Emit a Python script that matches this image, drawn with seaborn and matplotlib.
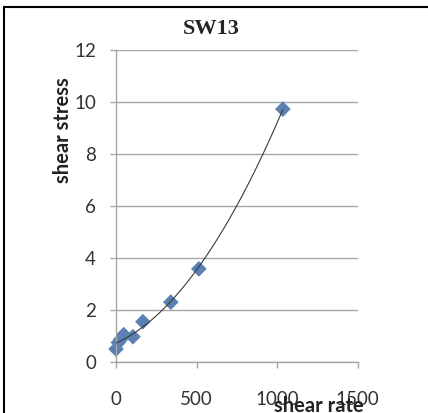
import numpy as np
import pandas as pd
import matplotlib
matplotlib.use("Agg")
import matplotlib.pyplot as plt
import seaborn as sns

# values
shear_rate = [0, 15, 30, 48, 105, 167, 340, 514, 1035]
shear_stress = [0.5, 0.75, 0.88, 1.05, 0.97, 1.55, 2.3, 3.58, 9.72]
x_ticks = [0, 500, 1000, 1500]
y_ticks = [0, 2, 4, 6, 8, 10, 12]

df = pd.DataFrame({"shear rate": shear_rate, "shear stress": shear_stress})

sns.set_style("white")
plt.rcParams["font.family"] = ["Lato", "DejaVu Sans"]

fig = plt.figure(figsize=(4.28, 4.13), dpi=100)
ax = fig.add_axes([0.271, 0.1235, 0.565, 0.756])

# polynomial trendline (excel style), fitted from the points
coef = np.polyfit(df["shear rate"], df["shear stress"], 2)
xs = np.linspace(0, max(shear_rate), 200)
ax.plot(xs, np.polyval(coef, xs), color="#3a3a3a", lw=0.8, zorder=3)

sns.scatterplot(data=df, x="shear rate", y="shear stress", marker="D", s=64,
                color="#5b80b4", edgecolor="none", ax=ax, zorder=2,
                clip_on=False)

ax.set_xlim(0, 1500)
ax.set_ylim(0, 12)
ax.set_xticks(x_ticks)
ax.set_yticks(y_ticks)
ax.set_xlabel("")
ax.set_ylabel("")
ax.yaxis.grid(True, color="#a6a6a6", lw=1)
ax.set_axisbelow(True)
for s in ["top", "right"]:
    ax.spines[s].set_visible(False)
for s in ["left", "bottom"]:
    ax.spines[s].set_color("#a6a6a6")
    ax.spines[s].set_linewidth(1)
ax.tick_params(axis="y", length=4.3, width=1, color="#a6a6a6", pad=10,
               labelsize=13.5, labelcolor="#333333", left=True)
ax.tick_params(axis="x", length=4, width=1, color="#a6a6a6", pad=17,
               labelsize=13.5, labelcolor="#333333", bottom=True)

fig.text(0.494, 0.93, "SW13", ha="center", va="center", fontsize=16,
         fontweight="bold", family="Liberation Serif")
fig.text(0.148, 0.685, "shear stress", ha="center", va="center", rotation=90,
         fontsize=14.5, fontweight="bold", color="#222222")
fig.text(0.745, 0.002, "shear rate", ha="center", va="baseline",
         fontsize=14.5, fontweight="bold", color="#222222")

# outer frame (top and left edges visible)
fig.add_artist(plt.Line2D([4 / 428, 1], [1 - 7 / 413, 1 - 7 / 413],
                          color="black", lw=1.5, transform=fig.transFigure))
fig.add_artist(plt.Line2D([4 / 428, 4 / 428], [0, 1 - 7 / 413],
                          color="black", lw=1.5, transform=fig.transFigure))

fig.savefig("out.png", dpi=100)
